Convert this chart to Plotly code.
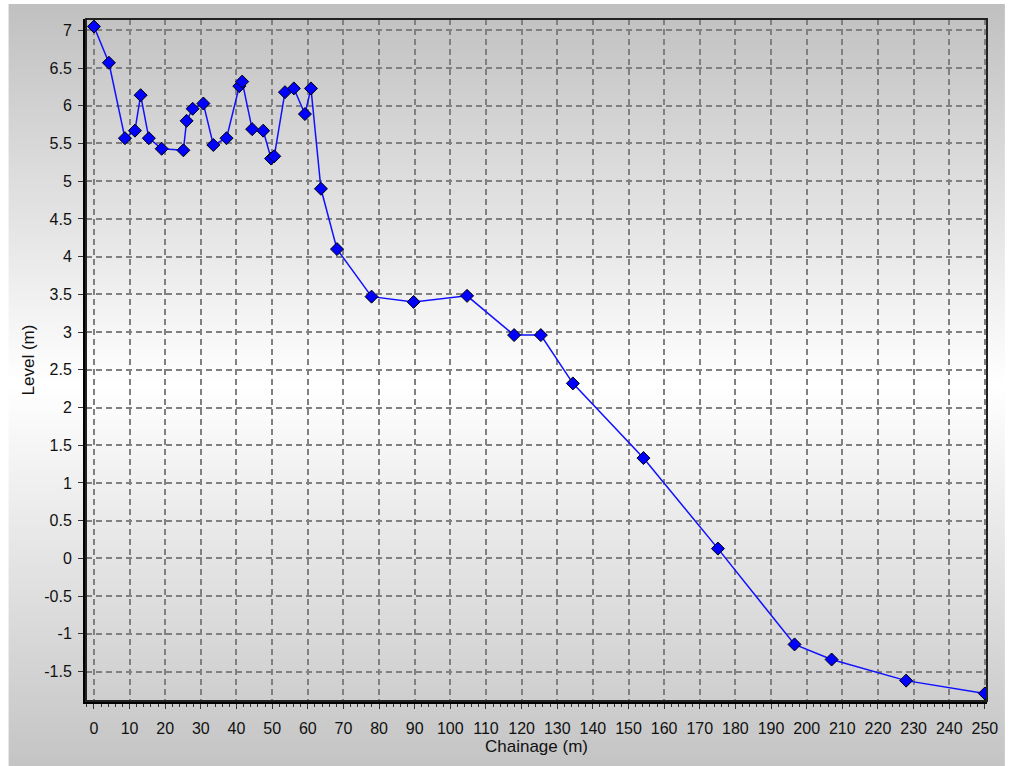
import plotly.graph_objects as go

# Data
chainage = [0, 4.2, 8.7, 11.5, 13.1, 15.4, 19.0, 25.1, 26.0, 27.7, 30.7, 33.5, 37.2,
            40.8, 41.6, 44.4, 47.5, 49.7, 50.6, 53.6, 56.1, 59.2, 60.9, 63.7, 68.2,
            77.9, 89.7, 104.7, 117.9, 125.4, 134.4, 154.2, 175.1, 196.6, 207.0,
            227.9, 250.0]
level = [7.05, 6.57, 5.57, 5.67, 6.14, 5.57, 5.43, 5.41, 5.80, 5.96, 6.03, 5.48, 5.57,
         6.26, 6.32, 5.69, 5.67, 5.30, 5.33, 6.18, 6.23, 5.89, 6.23, 4.90, 4.10,
         3.47, 3.40, 3.48, 2.96, 2.96, 2.32, 1.33, 0.13, -1.14, -1.34,
         -1.62, -1.79]

x_ticks = list(range(0, 251, 10))
y_ticks = [7, 6.5, 6, 5.5, 5, 4.5, 4, 3.5, 3, 2.5, 2, 1.5, 1, 0.5, 0,
           -0.5, -1, -1.5]
y_tick_text = ["7", "6.5", "6", "5.5", "5", "4.5", "4", "3.5", "3", "2.5", "2",
               "1.5", "1", "0.5", "0", "-0.5", "-1", "-1.5"]

W, H = 1010, 766
L, R, T, B = 86, 16, 19, 65
PW, PH = W - L - R, H - T - B


def px2paper_x(px):
    return (px - L) / PW


def px2paper_y(py):
    return (H - B - py) / PH


# vertical gradient background panel (gray -> white -> gray)
shapes = []
top_px, mid_px, bot_px = 4, 385, 766
c_top, c_mid, c_bot = 192, 255, 196
step = 3
py = top_px
while py < bot_px:
    y1 = min(py + step, bot_px)
    yc = (py + y1) / 2
    if yc <= mid_px:
        t = (yc - top_px) / (mid_px - top_px)
        c = c_top + (c_mid - c_top) * t
    else:
        t = (yc - mid_px) / (bot_px - mid_px)
        c = c_mid + (c_bot - c_mid) * t
    c = int(round(c))
    shapes.append(dict(type="rect", xref="paper", yref="paper",
                       x0=px2paper_x(8), x1=px2paper_x(W + 2),
                       y0=px2paper_y(y1 + 0.5), y1=px2paper_y(py),
                       fillcolor=f"rgb({c},{c},{c})", line=dict(width=0),
                       layer="below"))
    py = y1

# frame around the plot area (top/right)
shapes.append(dict(type="rect", xref="paper", yref="paper", x0=0, x1=1, y0=0, y1=1,
                   line=dict(color="#222222", width=2), layer="above"))

fig = go.Figure()
fig.add_trace(go.Scatter(
    x=chainage, y=level, mode="lines+markers",
    line=dict(color="#1010ff", width=1.5),
    marker=dict(symbol="diamond", size=10, color="#0000ff",
                line=dict(color="#000000", width=1)),
    showlegend=False, hoverinfo="x+y"))

font = "Liberation Sans, Arial, sans-serif"
grid_dash = "6px,4px"

fig.update_layout(
    width=W, height=H,
    margin=dict(l=L, r=R, t=T, b=B),
    paper_bgcolor="white",
    plot_bgcolor="rgba(0,0,0,0)",
    shapes=shapes,
    font=dict(family=font, size=15, color="#111111"),
    xaxis=dict(
        range=[-2.23, 250.6], tickvals=x_ticks,
        showgrid=True, gridcolor="#808080", gridwidth=1.6, griddash=grid_dash,
        zeroline=False, showline=True, linecolor="black", linewidth=3,
        ticks="outside", ticklen=5, tickwidth=1, tickcolor="#333333",
        ticklabelstandoff=6,
        minor=dict(dtick=2, tick0=0, ticks="outside", ticklen=3, tickcolor="#333333",
                   showgrid=False),
        tickfont=dict(size=16, family=font, color="#111111"),
        title=dict(text="Chainage (m)", font=dict(size=17, family=font), standoff=4),
    ),
    yaxis=dict(
        range=[-1.89, 7.15], tickvals=y_ticks, ticktext=y_tick_text,
        showgrid=True, gridcolor="#808080", gridwidth=1.6, griddash=grid_dash,
        zeroline=False, showline=True, linecolor="black", linewidth=3,
        ticks="outside", ticklen=5, tickwidth=1, tickcolor="#333333",
        ticklabelstandoff=3,
        tickfont=dict(size=16, family=font, color="#111111"),
        title=dict(text="Level (m)", font=dict(size=17, family=font), standoff=6),
    ),
)

fig.write_html("out.html")
